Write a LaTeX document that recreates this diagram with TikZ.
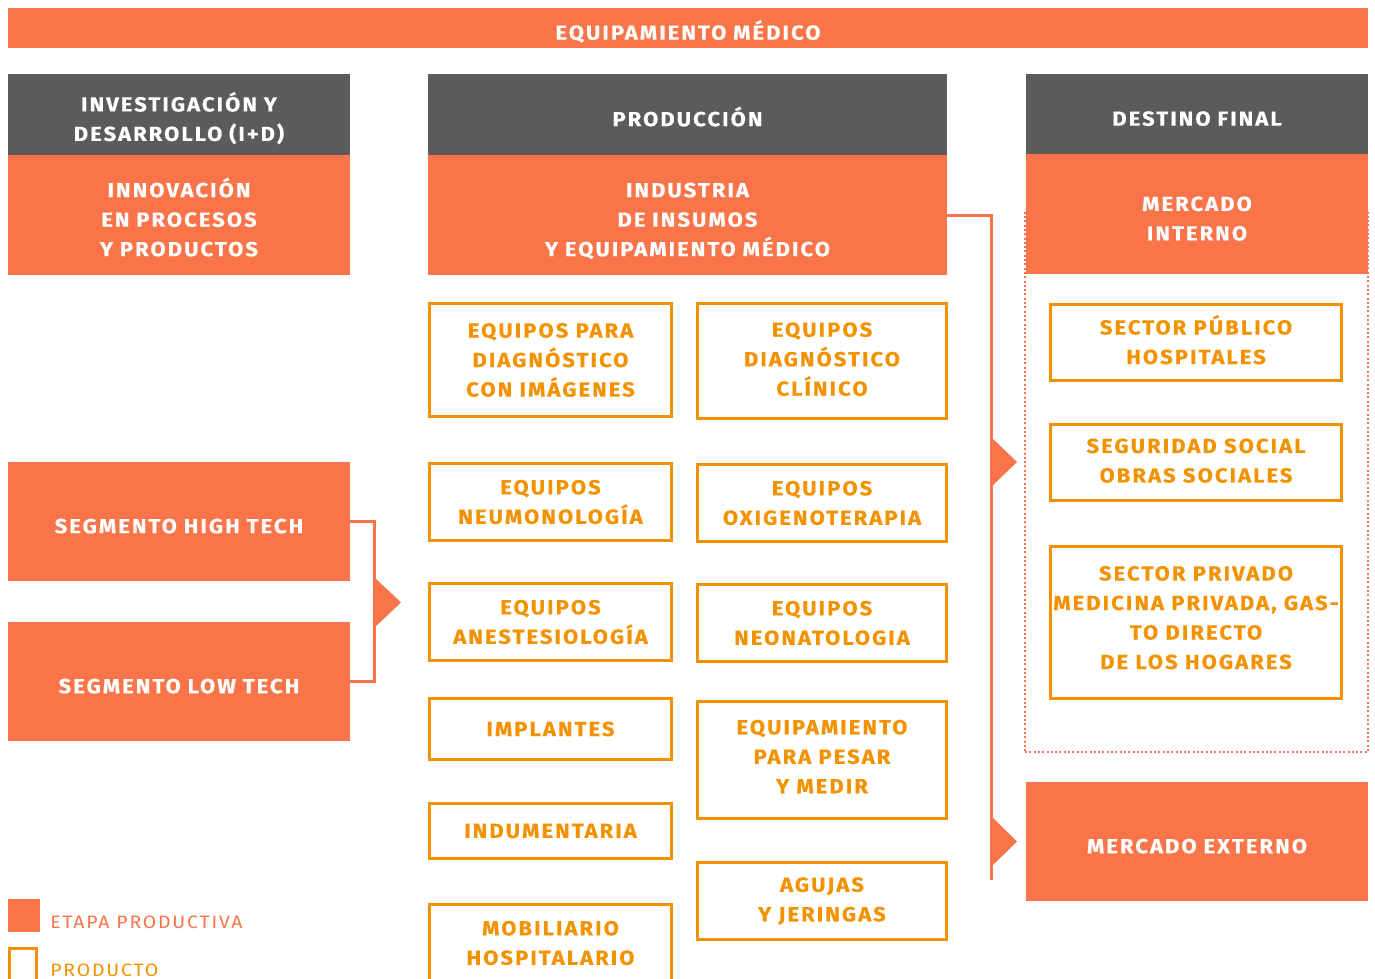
\documentclass[tikz,border=0pt]{standalone}
\usepackage{fontspec}
\setmainfont{Fira Sans}[LetterSpace=10, FakeStretch=1.08, BoldFeatures={FakeBold=0.4}]
\usetikzlibrary{calc}

\definecolor{etapa}{HTML}{F97448}
\definecolor{cabeza}{HTML}{5B5B5B}
\definecolor{producto}{HTML}{F39200}
\newcommand{\txt}{\fontsize{10.2}{14.75}\selectfont}
\newcommand{\txtley}{\fontsize{9}{12}\selectfont}

\tikzset{
	dim/.style 2 args={minimum width=#1, minimum height=#2},
	dimt/.style 2 args={minimum width=#1, minimum height=#2, text width=#1},
	etapabox/.style={fill=etapa, text=white, font=\txt\bfseries, align=center, inner sep=0pt,
		execute at begin node={\rule{0pt}{15.7pt}}, execute at end node={\rule[-4pt]{0pt}{0pt}}},
	cabezabox/.style={etapabox, fill=cabeza},
	prodbox/.style={draw=producto, line width=1.5pt, text=producto, font=\txt\bfseries, align=center, inner sep=0pt},
	subir/.style={execute at end node={\rule[-#1]{0pt}{0pt}}},
	marco/.style={draw=etapa, line width=1pt, dash pattern=on 1pt off 1.15pt},
	enlace/.style={draw=etapa, line width=1.5pt},
	flecha/.style={fill=etapa},
	leyenda/.style={anchor=west, font=\txtley, inner sep=0pt},
}

\begin{document}
\begin{tikzpicture}[x=0.5pt, y=-0.5pt]
		%%%%% START %%%%%
		\useasboundingbox (0,0) rectangle (1375,979);
		
		\node[etapabox, dimt={680pt}{20pt}] (titulo) at (688,28) {EQUIPAMIENTO MÉDICO};
		
		% cabeceras y etapas
		\node[cabezabox, dimt={171pt}{40.5pt}] (invest) at (179,114.5) {INVESTIGACIÓN Y\\DESARROLLO (I+D)};
		\node[etapabox, dimt={171pt}{60pt}] (innov) at (179,215) {INNOVACIÓN\\EN PROCESOS\\Y PRODUCTOS};
		\node[cabezabox, dimt={259.5pt}{40.5pt}] (produc) at (687.5,114.5) {PRODUCCIÓN};
		\node[etapabox, dimt={259.5pt}{60pt}] (indus) at (687.5,215) {INDUSTRIA\\DE INSUMOS\\Y EQUIPAMIENTO MÉDICO};
		\node[cabezabox, dimt={171pt}{40pt}] (destino) at (1197,114) {DESTINO FINAL};
		\node[marco, dim={171.5pt}{271pt}] (marcoint) at (1196.5,481) {};
		\node[etapabox, dimt={171pt}{60pt}] (interno) at (1197,214) {MERCADO\\INTERNO};
		
		\node[etapabox, dimt={171pt}{59.5pt}] (high) at (179,521.5) {SEGMENTO HIGH TECH};
		\node[etapabox, dimt={171pt}{59.5pt}] (low) at (179,681.5) {SEGMENTO LOW TECH};
		\node[etapabox, dimt={171pt}{59.5pt}] (externo) at (1197,841.5) {MERCADO EXTERNO};
		
		% productos
		\node[prodbox, dim={121pt}{56.5pt}] (diagimg) at (550.5,360) {EQUIPOS PARA\\DIAGNÓSTICO\\CON IMÁGENES};
		\node[prodbox, dim={121pt}{38.5pt}] (neumo) at (550.5,502) {EQUIPOS\\NEUMONOLOGÍA};
		\node[prodbox, dim={121pt}{38.5pt}] (anest) at (550.5,622) {EQUIPOS\\ANESTESIOLOGÍA};
		\node[prodbox, dim={121pt}{30.5pt}] (implan) at (550.5,729) {IMPLANTES};
		\node[prodbox, dim={121pt}{27.5pt}] (indum) at (550.5,831) {INDUMENTARIA};
		\node[prodbox, dim={121pt}{38.5pt}] (mobil) at (550.5,943) {MOBILIARIO\\HOSPITALARIO};
		
		\node[prodbox, subir=2pt, dim={124.5pt}{57.5pt}] (diagcli) at (822,361) {EQUIPOS\\DIAGNÓSTICO\\CLÍNICO};
		\node[prodbox, dim={124.5pt}{38.5pt}] (oxig) at (822,503) {EQUIPOS\\OXIGENOTERAPIA};
		\node[prodbox, dim={124.5pt}{38.5pt}] (neona) at (822,623) {EQUIPOS\\NEONATOLOGIA};
		\node[prodbox, subir=3.5pt, dim={124.5pt}{58.5pt}] (pesar) at (822,760) {EQUIPAMIENTO\\PARA PESAR\\Y MEDIR};
		\node[prodbox, dim={124.5pt}{38.5pt}] (agujas) at (822,901) {AGUJAS\\Y JERINGAS};
		
		\node[prodbox, subir=3pt, dim={145.5pt}{38pt}] (publico) at (1196,342.5) {SECTOR PÚBLICO\\HOSPITALES};
		\node[prodbox, subir=2pt, dim={145.5pt}{38pt}] (segsoc) at (1196,462.5) {SEGURIDAD SOCIAL\\OBRAS SOCIALES};
		\node[prodbox, subir=5pt, dim={145.5pt}{76pt}] (privado) at (1196,622.5) {SECTOR PRIVADO\\MEDICINA PRIVADA, GAS-\\TO DIRECTO\\DE LOS HOGARES};
		
		% enlaces
		\coordinate (codoL) at (374,602.5);
		\draw[enlace] (high.east) -| (codoL) |- (low.east);
		\fill[flecha] (codoL) ++(0,-25.5) -- ++(27,25.5) -- ++(-27,25.5) -- cycle;
		
		\coordinate (finR) at (991,880);
		\coordinate (puntaA) at (991,462);
		\coordinate (puntaB) at (991,841.5);
		\draw[enlace] (indus.east) -| (finR);
		\fill[flecha] (puntaA) ++(0,-25) -- ++(26,25) -- ++(-26,25) -- cycle;
		\fill[flecha] (puntaB) ++(0,-25.5) -- ++(26,25.5) -- ++(-26,25.5) -- cycle;
		
		% leyenda
		\node[fill=etapa, dim={16pt}{16.5pt}, inner sep=0pt] (legetapa) at (24,915.5) {};
		\node[leyenda, text=etapa] (txtetapa) at (50,922) {ETAPA PRODUCTIVA};
		\node[draw=producto, line width=1.5pt, dim={13.5pt}{16.25pt}, inner sep=0pt] (legprod) at (23,964.75) {};
		\node[leyenda, text=producto] (txtprod) at (50,970) {PRODUCTO};
		
		%%%%% END %%%%%
\end{tikzpicture}
\end{document}
